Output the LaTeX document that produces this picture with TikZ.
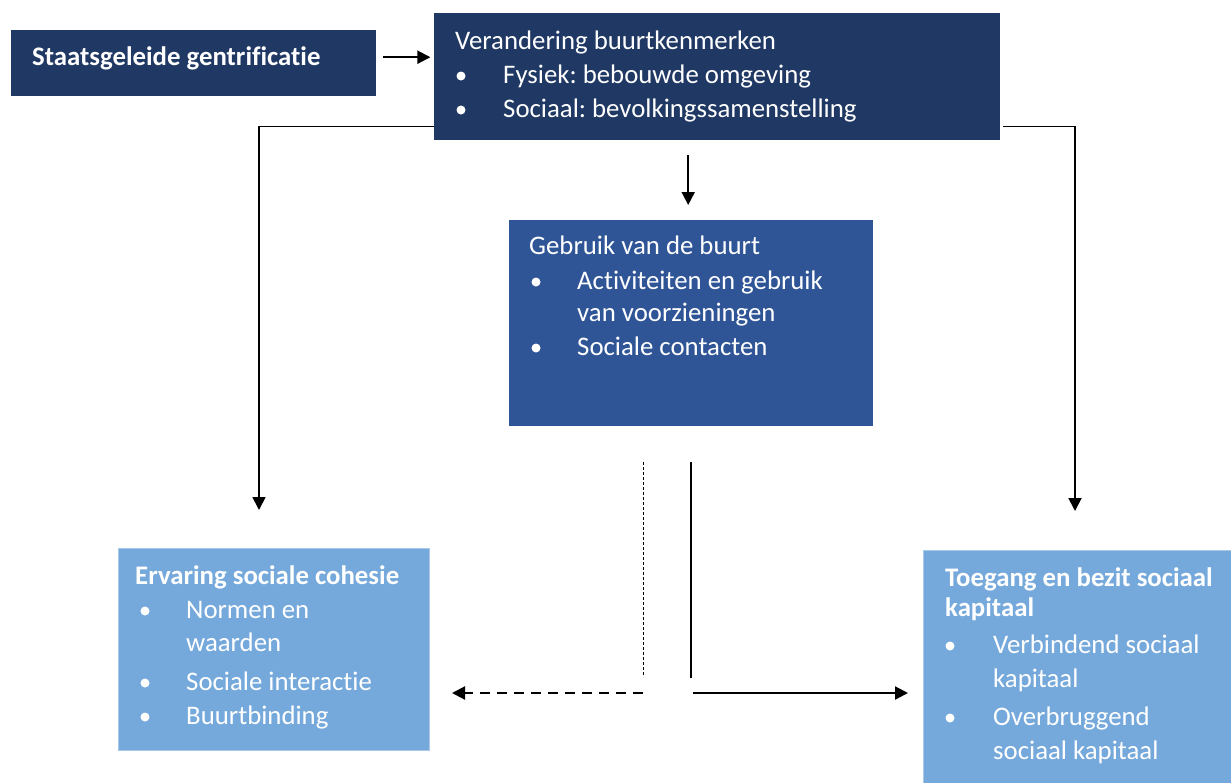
\documentclass[tikz,border=0pt]{standalone}
\usepackage{fontspec}
\setmainfont{Carlito}[Ligatures={NoCommon,NoRare,NoDiscretionary}]
\usetikzlibrary{arrows.meta}
\definecolor{navy}{HTML}{203864}
\definecolor{midblue}{HTML}{2F5597}
\definecolor{lightblue}{HTML}{76A9DB}
\definecolor{lightedge}{HTML}{A9C8EA}
\tikzset{
  box/.style={inner sep=0pt, anchor=north west},
  txt/.style={anchor=base west, inner sep=0pt, text=white, font=\fontsize{26.8}{30}\selectfont},
  btxt/.style={anchor=base west, inner sep=0pt, text=white, font=\fontsize{26.8}{30}\selectfont\bfseries},
  bul/.style={circle, fill=white, inner sep=0pt, minimum size=9pt},
  conn/.style={line width=1.8pt, -{Triangle[length=13pt,width=13pt]}},
}
\frenchspacing
\begin{document}
\begin{tikzpicture}[x=1pt,y=-1pt]
\useasboundingbox (0,0) rectangle (1231,782);
% boxes
\node[box, fill=navy, minimum width=365pt, minimum height=66pt] (sg) at (11,30) {};
\node[box, fill=navy, minimum width=566pt, minimum height=127pt] (ver) at (434,13) {};
\node[box, fill=midblue, minimum width=364pt, minimum height=206pt] (gb) at (509,220) {};
\node[box, fill=lightblue, draw=lightedge, line width=0.8pt, minimum width=311pt, minimum height=202pt] (erv) at (118,548) {};
\node[box, fill=lightblue, draw=lightedge, line width=0.8pt, minimum width=312pt, minimum height=236pt] (toe) at (923,550) {};

% texts
\node[btxt] (sgt) at (32,65) {Staatsgeleide gentrificatie};

\node[txt] (v1) at (455,49) {Verandering buurtkenmerken};
\node[bul] (vb1) at (461,76) {};
\node[txt] (v2) at (503,83) {Fysiek: bebouwde omgeving};
\node[bul] (vb2) at (461,110) {};
\node[txt] (v3) at (503,117) {Sociaal: bevolkingssamenstelling};

\node[txt] (g1) at (529,254) {Gebruik van de buurt};
\node[bul] (gb1) at (536,282) {};
\node[txt] (g2) at (577,289) {Activiteiten en gebruik};
\node[txt] (g3) at (577,321) {van voorzieningen};
\node[bul] (gb2) at (536,348) {};
\node[txt] (g4) at (577,355) {Sociale contacten};

\node[btxt] (e1) at (135,584) {Ervaring sociale cohesie};
\node[bul] (eb1) at (145,611) {};
\node[txt] (e2) at (186,618) {Normen en};
\node[txt] (e3) at (186,651) {waarden};
\node[bul] (eb2) at (145,683) {};
\node[txt] (e4) at (186,690) {Sociale interactie};
\node[bul] (eb3) at (145,717) {};
\node[txt] (e5) at (186,724) {Buurtbinding};

\node[btxt] (t1) at (945,586) {Toegang en bezit sociaal};
\node[btxt] (t2) at (945,616) {kapitaal};
\node[bul] (tb1) at (950,646) {};
\node[txt] (t3) at (993,653) {Verbindend sociaal};
\node[txt] (t4) at (993,687) {kapitaal};
\node[bul] (tb2) at (950,718) {};
\node[txt] (t5) at (993,725) {Overbruggend};
\node[txt] (t6) at (993,759) {sociaal kapitaal};

% free ends
\coordinate (lend) at (259,510);
\coordinate (rend) at (1075,511);
\coordinate (dtop) at (643,462);
\coordinate (dbot) at (643,677);
\coordinate (stop) at (691,462);
\coordinate (sbot) at (691,678);
\coordinate (dastart) at (643,693);
\coordinate (daend) at (452,693);
\coordinate (sastart) at (693,693);
\coordinate (saend) at (908,693);

% connectors
\draw[conn, line width=2pt] ([xshift=7pt,yshift=6pt]sg.east) -- ++(47,0);
\draw[conn] ([yshift=14pt]ver.south west) -| (lend);
\draw[conn] ([xshift=3pt,yshift=14pt]ver.south east) -| (rend);
\draw[conn] ([xshift=-3pt,yshift=65pt]gb.north) -- ([xshift=-3pt,yshift=15pt]gb.north);
\draw[line width=0.9pt, dash pattern=on 3pt off 2pt] (dtop) -- (dbot);
\draw[line width=1.1pt] (stop) -- (sbot);
\draw[conn, line width=2.2pt, dash pattern=on 10pt off 7pt] (dastart) -- (daend);
\draw[conn, line width=2.2pt] (sastart) -- (saend);
\end{tikzpicture}
\end{document}
